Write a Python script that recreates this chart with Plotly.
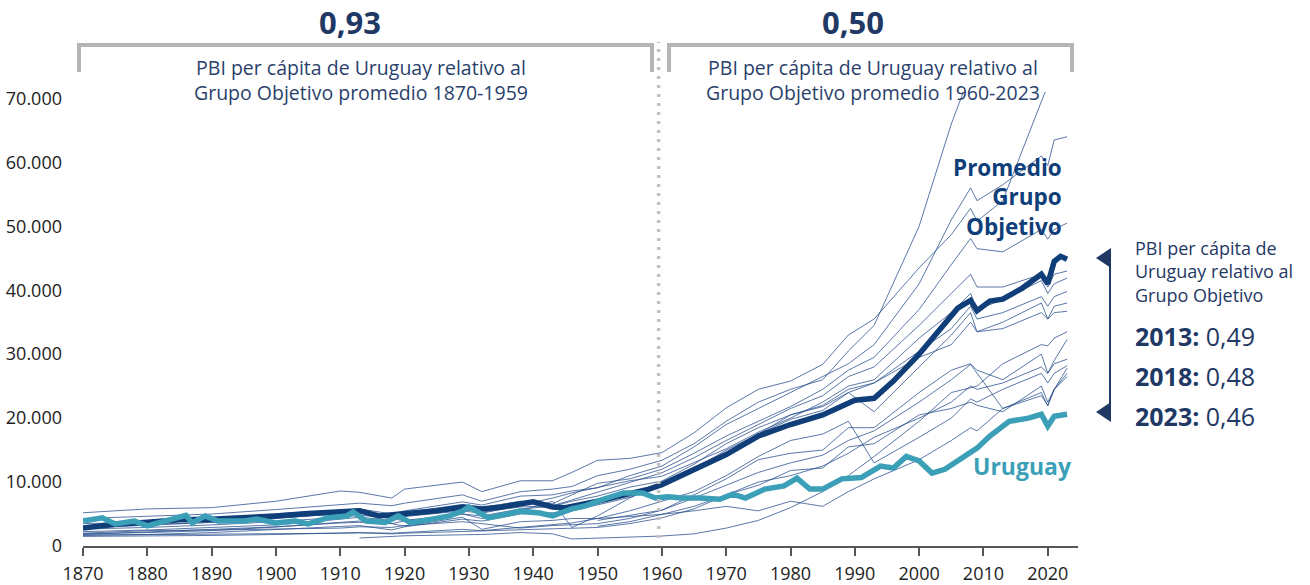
import plotly.graph_objects as go

# años comunes para las series del grupo objetivo (None = sin dato)
anios_grupo = [1870, 1880, 1890, 1900, 1910, 1913, 1918, 1920, 1929, 1932, 1938, 1943, 1946,
               1950, 1955, 1960, 1965, 1970, 1975, 1980, 1985, 1989, 1993, 2000, 2005, 2008,
               2009, 2013, 2019, 2020, 2021, 2023]

pais_01 = [5200, 5800, 6000, 7000, 8600, 8400, 7500, 8900, 10000, 8500, 10200, 10200, 11500,
           13400, 13700, 14600, 17700, 21600, 24500, 25800, 28400, 33000, 35500, 43500, 48700,
           52800, 50800, 54000, 69500, 72000, 76000, 79000]
pais_02 = [4300, 4700, 5000, 5700, 6400, 6700, 6300, 6700, 8000, 7000, 8500, 8900, 9300,
           11000, 12000, 13400, 16000, 19500, 22500, 24500, 26000, 30500, 34500, 50000, 66000,
           74000, 71000, 76000, 95000, 98000, 104000, 104000]
pais_03 = [3500, 3700, 4100, 5050, 5600, 5800, 5000, 5500, 6900, 6400, 7800, 8000, 8600,
           9100, 11000, 12500, 15500, 19000, 21500, 24000, 26500, 28500, 31500, 41000, 51000,
           56000, 54000, 56500, 61000, 59500, 63500, 64000]
pais_04 = [3000, 3300, 3700, 4300, 5000, 5300, 4800, 5200, 6500, 6000, 7000, 6600, 8000,
           9800, 10500, 12000, 14500, 17200, 19500, 21800, 24500, 27500, 29500, 37000, 44000,
           48100, 46500, 46000, 49500, 48000, 49500, 50500]
pais_05 = [2650, 2900, 3300, 3800, 4500, 4800, 4400, 4700, 5800, 5300, 6100, 6300, 7200,
           8400, 10000, 11450, 13800, 16500, 19000, 21500, 23500, 26500, 28000, 34500, 39500,
           42500, 40500, 40500, 42500, 40500, 42500, 43000]
pais_06 = [2240, 2500, 2900, 3300, 4200, 4500, 4000, 4600, 5500, 5100, 6400, 7500, 8300,
           9100, 10200, 10900, 13000, 15200, 17800, 20000, 22500, 25000, 26000, 32500, 36500,
           39500, 37000, 38500, 41500, 39500, 41000, 41900]
pais_07 = [1930, 2100, 2400, 2970, 3700, 3900, 3500, 3900, 5000, 4700, 5800, 6200, 7000,
           7800, 9200, 10150, 12800, 16000, 18500, 20500, 21800, 24000, 25500, 30500, 34000,
           37500, 35500, 36500, 39000, 37500, 39000, 39800]
pais_08 = [1670, 1800, 2100, 2600, 3000, 3200, 2500, 3000, 4200, 3900, 5000, 5200, 5500,
           6400, 7600, 9500, 11800, 14500, 17500, 19800, 21200, 24000, 21000, 28000, 33000,
           36500, 33500, 34000, 36500, 35500, 36500, 36700]
pais_09 = [2800, 3200, 3700, 4400, 5000, 5200, 4200, 4000, 5000, 4300, 5500, 7000, 2900,
           4700, 7500, 9800, 12000, 15000, 17500, 20500, 22000, 24500, 25500, 29500, 31500,
           35000, 33500, 35000, 38000, 35500, 37500, 38000]
pais_10 = [1700, 1750, 1900, 1950, 2000, 2050, 1900, 2000, 2300, 2300, 2500, 2700, 2800,
           2900, 3500, 4400, 5800, 8000, 9500, 11800, 12200, 15500, 16000, 20500, 21500,
           22500, 22000, 21000, 25000, 22500, 24500, 27800]
pais_11 = [2000, 2400, 2500, 2700, 2800, 3000, 2900, 3200, 3800, 3500, 2800, 3200, 3300,
           3500, 4300, 5600, 8000, 10500, 13500, 14500, 15000, 18500, 18500, 24000, 27500,
           28500, 27500, 26000, 30000, 27000, 29000, 32300]
pais_12 = [1800, 2200, 2600, 3000, 3600, 3700, 3500, 3100, 4500, 2600, 3800, 4000, 4300,
           4300, 4600, 4950, 5500, 6200, 5500, 7000, 6200, 8500, 10500, 13500, 16500,
           18500, 18000, 21500, 23500, 22000, 24500, 26500]
pais_13 = [None, None, None, None, None, None, None, None, None, None, None, None, None,
           3100, 3800, 4950, 6200, 8000, 10000, 11000, 12500, 14500, 17000, 20000, 22500,
           25000, 24500, 25500, 28000, 27000, 28500, 29200]
pais_14 = [None, None, None, None, None, None, None, None, None, None, None, None, None,
           4000, 4800, 5600, 7500, 9500, 11500, 13000, 14200, 16500, 18000, 22500, 26000,
           28400, 27000, 21500, 24000, 21900, 24500, 27000]
pais_15 = [1500, 1550, 1650, 1800, 2000, 2100, 2000, 2100, 2600, 2400, 2900, 3300, 3600,
           4300, 5500, 7000, 8500, 11000, 14000, 16500, 17500, 19500, 13000, 17000, 20000,
           23000, 22500, 24500, 27000, 25500, 27000, 28200]
pais_16 = [None, None, None, None, None, 1250, 1500, 1600, 1750, 1800, 2100, 1900, 1100,
           1200, 1400, 1560, 1900, 2800, 4000, 6000, 8500, 11000, 14000, 19500, 24000,
           24800, 25000, 28500, 31500, 31300, 32500, 33500]

series_grupo = [pais_01, pais_02, pais_03, pais_04, pais_05, pais_06, pais_07, pais_08,
                pais_09, pais_10, pais_11, pais_12, pais_13, pais_14, pais_15, pais_16]

anios_promedio = [1870, 1875, 1880, 1885, 1890, 1895, 1900, 1905, 1910, 1913, 1916, 1920, 1925,
                  1929, 1932, 1935, 1940, 1943, 1945, 1950, 1955, 1958, 1960, 1965, 1970, 1975,
                  1980, 1985, 1990, 1993, 1996, 2000, 2003, 2006, 2008, 2009, 2011, 2013, 2016,
                  2019, 2020, 2021, 2022, 2023]
promedio_grupo = [2800, 3400, 3700, 4100, 4200, 4400, 4700, 5100, 5300, 5500, 4700, 5000, 5500,
                  6100, 5800, 6100, 6900, 6100, 6000, 7000, 8100, 8900, 9600, 11900, 14300, 17200,
                  19000, 20500, 22800, 23100, 25800, 30000, 33600, 37200, 38400, 36800, 38300,
                  38600, 40300, 42500, 41000, 44500, 45300, 44850]

anios_uruguay = [1870, 1873, 1875, 1878, 1880, 1883, 1886, 1887, 1889, 1891, 1895, 1897, 1900,
                 1903, 1905, 1908, 1911, 1912, 1914, 1917, 1919, 1921, 1924, 1927, 1929, 1930,
                 1932, 1933, 1936, 1938, 1941, 1943, 1946, 1948, 1951, 1954, 1957, 1959, 1961,
                 1963, 1966, 1969, 1971, 1973, 1976, 1979, 1981, 1983, 1985, 1988, 1991, 1994,
                 1996, 1998, 2000, 2002, 2004, 2006, 2009, 2011, 2014, 2017, 2019, 2020, 2021,
                 2023]
pbi_uruguay = [3900, 4400, 3450, 3900, 3150, 3900, 4800, 3600, 4700, 3900, 3900, 4200, 3600,
               3900, 3450, 4400, 4700, 5300, 3900, 3700, 4700, 3600, 4200, 4700, 5450, 6100,
               5000, 4400, 5000, 5450, 5150, 4700, 5800, 6250, 7350, 8300, 8300, 7500, 7700,
               7500, 7500, 7300, 8100, 7500, 8900, 9400, 10600, 8900, 8900, 10500, 10700, 12500,
               12200, 14000, 13300, 11400, 12000, 13300, 15300, 17200, 19500, 20000, 20600,
               18750, 20300, 20600]

ticks_y = [0, 10000, 20000, 30000, 40000, 50000, 60000, 70000]
etiquetas_y = ["0", "10.000", "20.000", "30.000", "40.000", "50.000", "60.000", "70.000"]
ticks_x = [1870, 1880, 1890, 1900, 1910, 1920, 1930, 1940, 1950, 1960, 1970, 1980, 1990,
           2000, 2010, 2020]

ratios_texto = ["<b>2013:</b> 0,49", "<b>2018:</b> 0,48", "<b>2023:</b> 0,46"]

AZUL_FINO = "rgba(38,78,140,0.85)"
AZUL_PROM = "#0f3e78"
TURQUESA = "#3c9fb8"
NAVY_TXT = "#1f3864"
GRIS = "#b5b5b5"

# zona del gráfico en píxeles
L, R, T, B = 83, 1078, 92, 546


def px(x):
    return (x - L) / (R - L)


def py(y):
    return (B - y) / (B - T)


fig = go.Figure()

for serie in series_grupo:
    fig.add_trace(go.Scatter(x=anios_grupo, y=serie, mode="lines",
                             line=dict(color=AZUL_FINO, width=0.9),
                             hoverinfo="skip", showlegend=False))

fig.add_trace(go.Scatter(x=anios_promedio, y=promedio_grupo, mode="lines",
                         line=dict(color=AZUL_PROM, width=5.5), showlegend=False))
fig.add_trace(go.Scatter(x=anios_uruguay, y=pbi_uruguay, mode="lines",
                         line=dict(color=TURQUESA, width=5.5), showlegend=False))

shapes = []
# corchetes superiores
for x0, x1 in [(79, 652), (669, 1072)]:
    shapes.append(dict(type="path", xref="paper", yref="paper",
                       path=f"M {px(x0)} {py(72)} L {px(x0)} {py(45)} L {px(x1)} {py(45)} L {px(x1)} {py(72)}",
                       line=dict(color=GRIS, width=4)))
# linea punteada 1960
shapes.append(dict(type="line", xref="x", yref="paper", x0=1959.5, x1=1959.5,
                   y0=py(538), y1=py(42), line=dict(color="#c2c2c2", width=3.5, dash="3px,6px")))
# llave derecha con flechas
shapes.append(dict(type="line", xref="paper", yref="paper", x0=px(1110), x1=px(1110),
                   y0=py(258), y1=py(412), line=dict(color=NAVY_TXT, width=2)))
for yt in [258, 412]:
    shapes.append(dict(type="path", xref="paper", yref="paper",
                       path=f"M {px(1096)} {py(yt)} L {px(1111)} {py(yt - 10)} L {px(1111)} {py(yt + 10)} Z",
                       fillcolor=NAVY_TXT, line=dict(color=NAVY_TXT, width=0)))

FONT = "Open Sans"
annotations = []


def nota(texto, x, y, size, color, xanchor="center", align="center"):
    annotations.append(dict(text=texto, x=px(x), y=py(y), xref="paper", yref="paper",
                            xanchor=xanchor, yanchor="middle", align=align, showarrow=False,
                            font=dict(family=FONT, size=size, color=color)))


nota("<b>0,93</b>", 350, 22, 31, NAVY_TXT)
nota("<b>0,50</b>", 853, 22, 31, NAVY_TXT)
nota("PBI per cápita de Uruguay relativo al<br>Grupo Objetivo promedio 1870-1959",
     361, 80, 19.5, "#2a3f6c")
nota("PBI per cápita de Uruguay relativo al<br>Grupo Objetivo promedio 1960-2023",
     873, 80, 19.5, "#2a3f6c")

nota("PBI per cápita de<br>Uruguay relativo al<br>Grupo Objetivo", 1133, 271, 18, NAVY_TXT,
     xanchor="left", align="left")
for i, txt in enumerate(ratios_texto):
    nota(txt, 1133, 336 + 40 * i, 25, NAVY_TXT, xanchor="left", align="left")

nota("<b>Promedio<br>Grupo<br>Objetivo</b>", 1064, 197, 22.5, AZUL_PROM,
     xanchor="right", align="right")
nota("<b>Uruguay</b>", 1074, 466, 23, TURQUESA, xanchor="right")

fig.update_layout(
    width=1310, height=585,
    margin=dict(l=L, r=1310 - R, t=T, b=585 - B, autoexpand=False),
    paper_bgcolor="white", plot_bgcolor="white",
    showlegend=False,
    font=dict(family=FONT, size=16, color="#222222"),
    shapes=shapes, annotations=annotations,
)
fig.update_xaxes(range=[1870, 2024.7], tickvals=ticks_x, showgrid=False, zeroline=False,
                 showline=True, linecolor="#555555", linewidth=2, automargin=False,
                 ticks="outside", ticklen=8, tickwidth=2, tickcolor="#555555",
                 tickfont=dict(size=18, color="#222222"), ticklabelstandoff=2)
fig.update_yaxes(range=[0, 71000], tickvals=ticks_y, ticktext=etiquetas_y, showgrid=False,
                 zeroline=False, showline=False, ticks="", automargin=False,
                 tickfont=dict(size=18, color="#222222"), ticklabelstandoff=20)

fig.write_html("out.html", config={"displayModeBar": False},
               post_script="document.body.style.margin='0px';")
